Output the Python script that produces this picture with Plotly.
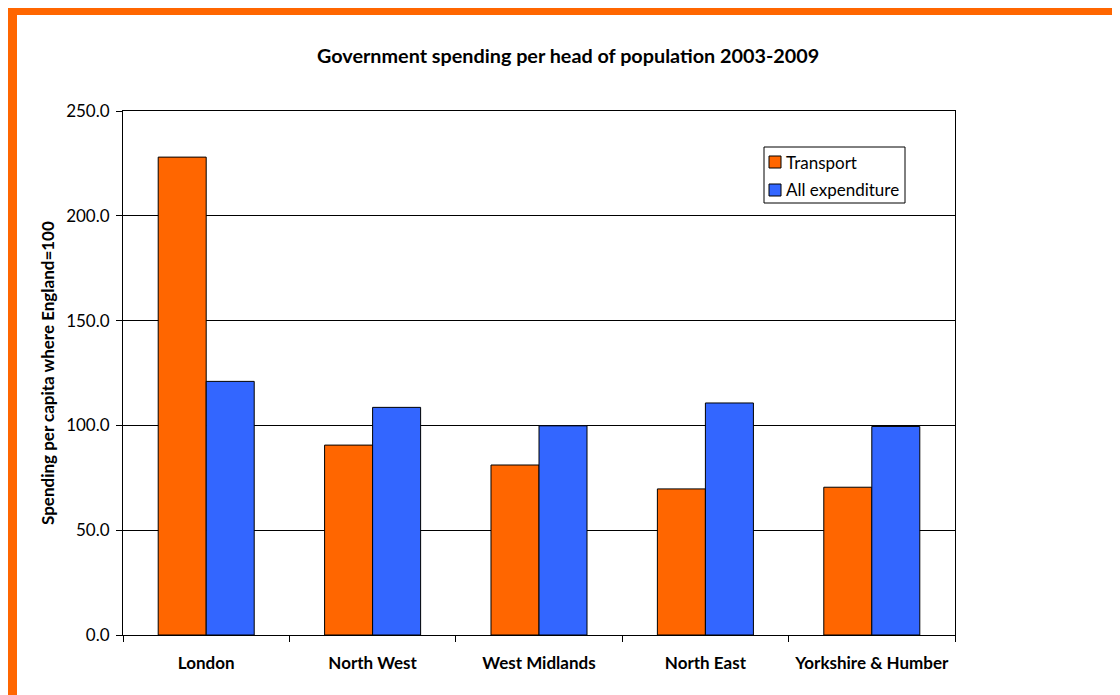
import plotly.graph_objects as go

regions = ["London", "North West", "West Midlands", "North East", "Yorkshire & Humber"]
series_names = ["Transport", "All expenditure"]
transport = [228.0, 90.6, 81.1, 69.7, 70.5]
all_expenditure = [121.0, 108.6, 99.8, 110.7, 99.5]
y_ticks = [0, 50, 100, 150, 200, 250]
colors = ["#FF6600", "#3366FF"]

# page has an 8px body margin; figure coordinates = page coordinates - 8
OFF = 8
W, H = 1120 - OFF, 695 - OFF
L, T = 123 - OFF, 111 - OFF
pw, ph = 832, 524
R, B = W - L - pw, H - T - ph


def px(x):
    return (x - OFF - L) / pw


def py(y):
    return (T + ph - (y - OFF)) / ph


font = "Lato, 'Open Sans', sans-serif"

fig = go.Figure()
fig.add_bar(x=regions, y=transport, name=series_names[0],
            marker=dict(color=colors[0], line=dict(color="#000000", width=1)))
fig.add_bar(x=regions, y=all_expenditure, name=series_names[1],
            marker=dict(color=colors[1], line=dict(color="#000000", width=1)))

shapes = [
    dict(type="rect", xref="paper", yref="paper",
         x0=px(0), x1=px(1130), y0=py(15), y1=py(0),
         fillcolor="#FF6600", line=dict(width=0), layer="above"),
    dict(type="rect", xref="paper", yref="paper",
         x0=px(0), x1=px(17), y0=py(705), y1=py(0),
         fillcolor="#FF6600", line=dict(width=0), layer="above"),
    # legend box
    dict(type="rect", xref="paper", yref="paper",
         x0=px(764), x1=px(905), y0=py(203), y1=py(147),
         fillcolor="white", line=dict(color="#000000", width=1), layer="above"),
]
annotations = [
    dict(text="<b>Government spending per head of population 2003-2009</b>",
         x=px(568), y=py(55), xref="paper", yref="paper",
         showarrow=False, font=dict(size=19.8, family=font),
         xanchor="center", yanchor="middle"),
    dict(text="<b>Spending per capita where England=100</b>",
         x=px(47), y=0.5, xref="paper", yref="paper", textangle=-90,
         showarrow=False, font=dict(size=17, family=font),
         xanchor="center", yanchor="middle"),
]
for i, (nm, c) in enumerate(zip(series_names, colors)):
    yc = 162 + 28 * i
    shapes.append(dict(type="rect", xref="paper", yref="paper",
                       x0=px(769), x1=px(781), y0=py(yc + 6), y1=py(yc - 6),
                       fillcolor=c, line=dict(color="#000000", width=1),
                       layer="above"))
    annotations.append(dict(text=nm, x=px(784), y=py(yc), xref="paper",
                            yref="paper", showarrow=False, xanchor="left",
                            yanchor="middle",
                            font=dict(size=17, family=font)))

fig.update_layout(
    width=W, height=H,
    margin=dict(l=L, r=R, t=T, b=B, autoexpand=False),
    paper_bgcolor="white", plot_bgcolor="white",
    barmode="group", bargap=0.423, bargroupgap=0,
    font=dict(family=font, color="#000000", size=17),
    showlegend=False,
    annotations=annotations,
    shapes=shapes,
)

fig.update_yaxes(range=[0, 250], tickvals=y_ticks, tickformat=".1f",
                 showgrid=True, gridcolor="#000000", gridwidth=1,
                 showline=True, linecolor="#000000", linewidth=1, mirror=True,
                 ticks="outside", ticklen=6, tickcolor="#000000",
                 tickfont=dict(size=17, family=font), zeroline=False,
                 ticklabelstandoff=3)
fig.update_xaxes(showline=True, linecolor="#000000", linewidth=1, mirror=True,
                 ticks="outside", ticklen=6, tickcolor="#000000",
                 tickson="boundaries",
                 tickfont=dict(size=17, family=font),
                 ticklabelstandoff=13)
fig.update_xaxes(tickvals=regions, ticktext=["<b>%s</b>" % r for r in regions])

fig.write_html("out.html")
